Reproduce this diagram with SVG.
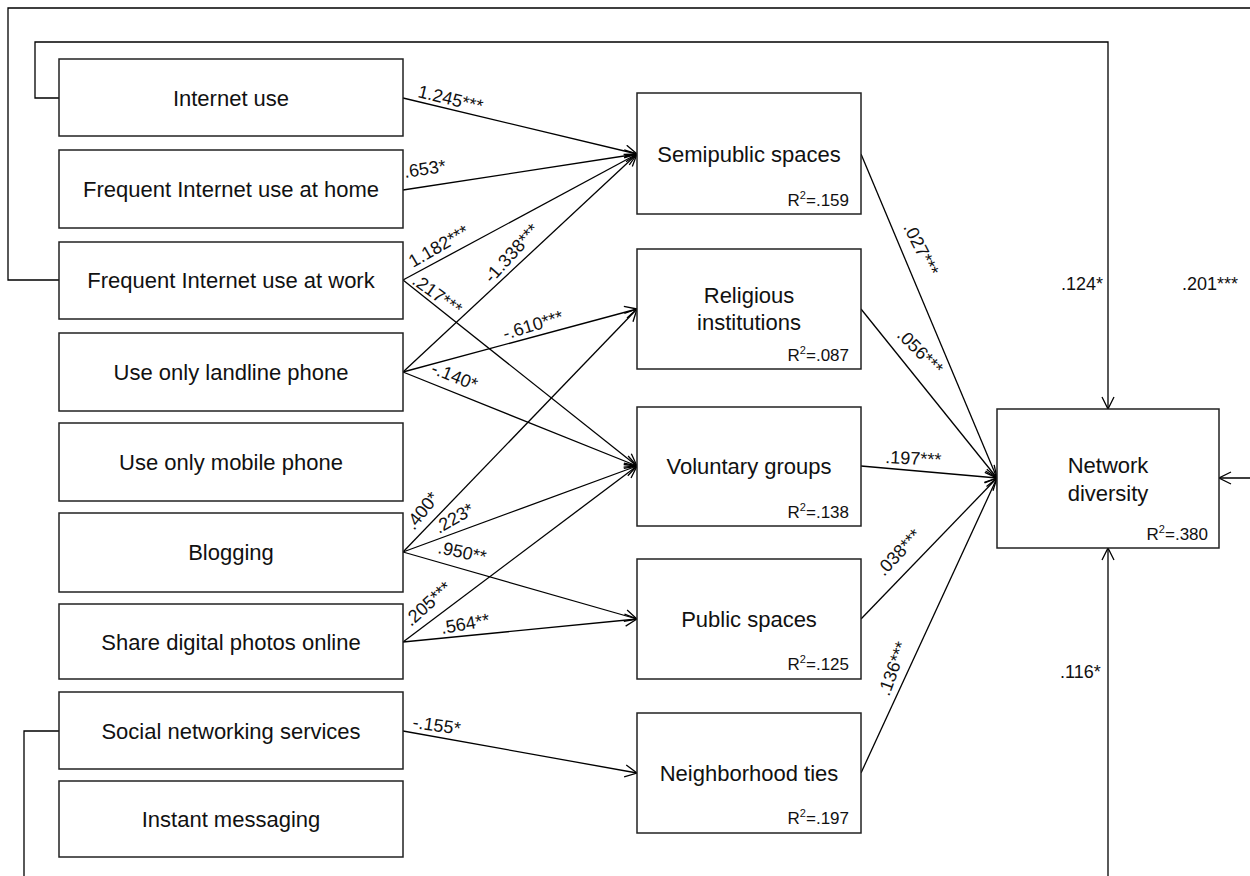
<svg xmlns="http://www.w3.org/2000/svg" width="1250" height="876" viewBox="0 0 1250 876">
<defs>
<marker id="arr" markerUnits="userSpaceOnUse" markerWidth="14" markerHeight="14" viewBox="0 0 14 14" refX="13" refY="7" orient="auto">
<path d="M1,1 L13,7 L1,13" fill="none" stroke="#000" stroke-width="1.3"/>
</marker>
<style>
.box{fill:#fff;stroke:#222;stroke-width:1.5}
.t{font-family:"Liberation Sans",Arial,sans-serif;font-size:22px;fill:#111;text-anchor:middle}
.r2{font-family:"Liberation Sans",Arial,sans-serif;font-size:17px;fill:#111;text-anchor:end}
.lb{font-family:"Liberation Sans",Arial,sans-serif;font-size:18px;fill:#111}
.c{fill:none;stroke:#000;stroke-width:1.3}
.a{fill:none;stroke:#000;stroke-width:1.3;marker-end:url(#arr)}
</style>
</defs>
<rect width="1250" height="876" fill="#fff"/>

<g id="connectors">
<path class="a" d="M59,98 H35 V42 H1108 V409"/>
<path class="a" d="M59,280 H8 V8 H1262 V478 H1219"/>
<path class="c" d="M59,731 H24 V880"/>
<path class="a" d="M1108,880 V548"/>

<line class="a" x1="403" y1="98" x2="637" y2="154"/>
<line class="a" x1="403" y1="190" x2="637" y2="154"/>
<line class="a" x1="403" y1="280" x2="637" y2="154"/>
<line class="a" x1="403" y1="280" x2="637" y2="466"/>
<line class="a" x1="403" y1="372" x2="637" y2="154"/>
<line class="a" x1="403" y1="372" x2="637" y2="309"/>
<line class="a" x1="403" y1="372" x2="637" y2="466"/>
<line class="a" x1="403" y1="552" x2="637" y2="309"/>
<line class="a" x1="403" y1="552" x2="637" y2="466"/>
<line class="a" x1="403" y1="552" x2="637" y2="619"/>
<line class="a" x1="403" y1="642" x2="637" y2="466"/>
<line class="a" x1="403" y1="642" x2="637" y2="619"/>
<line class="a" x1="403" y1="731" x2="637" y2="773"/>

<line class="a" x1="861" y1="154" x2="997" y2="478"/>
<line class="a" x1="861" y1="309" x2="997" y2="478"/>
<line class="a" x1="861" y1="466" x2="997" y2="478"/>
<line class="a" x1="861" y1="619" x2="997" y2="478"/>
<line class="a" x1="861" y1="773" x2="997" y2="478"/>

<text class="lb" transform="translate(417,97) rotate(13.5)">1.245***</text>
<text class="lb" transform="translate(405,178) rotate(-8.7)">.653*</text>
<text class="lb" transform="translate(413,268) rotate(-30)">1.182***</text>
<text class="lb" transform="translate(411,283) rotate(36)">.217***</text>
<text class="lb" transform="translate(492,284) rotate(-48)">-1.338***</text>
<text class="lb" transform="translate(505,340) rotate(-17)">-.610***</text>
<text class="lb" transform="translate(430,373) rotate(22)">-.140*</text>
<text class="lb" transform="translate(414,531) rotate(-52)">.400*</text>
<text class="lb" transform="translate(439,534) rotate(-30)">.223*</text>
<text class="lb" transform="translate(437,553) rotate(12)">.950**</text>
<text class="lb" transform="translate(411,627) rotate(-42)">.205***</text>
<text class="lb" transform="translate(442,634) rotate(-10)">.564**</text>
<text class="lb" transform="translate(412,728) rotate(8)">-.155*</text>

<text class="lb" transform="translate(903,227) rotate(63)">.027***</text>
<text class="lb" transform="translate(896,336) rotate(45)">.056***</text>
<text class="lb" transform="translate(885,463) rotate(3)">.197***</text>
<text class="lb" transform="translate(884,577) rotate(-47)">.038***</text>
<text class="lb" transform="translate(889,697) rotate(-70)">.136***</text>

<text class="lb" x="1061" y="290">.124*</text>
<text class="lb" x="1182" y="290">.201***</text>
<text class="lb" x="1060" y="678">.116*</text>
</g>

<g id="n-internet"><rect class="box" x="59" y="59" width="344" height="77"/><text class="t" x="231" y="106">Internet use</text></g>
<g id="n-home"><rect class="box" x="59" y="150" width="344" height="78"/><text class="t" x="231" y="197">Frequent Internet use at home</text></g>
<g id="n-work"><rect class="box" x="59" y="242" width="344" height="77"/><text class="t" x="231" y="288">Frequent Internet use at work</text></g>
<g id="n-landline"><rect class="box" x="59" y="333" width="344" height="78"/><text class="t" x="231" y="380">Use only landline phone</text></g>
<g id="n-mobile"><rect class="box" x="59" y="423" width="344" height="78"/><text class="t" x="231" y="470">Use only mobile phone</text></g>
<g id="n-blogging"><rect class="box" x="59" y="513" width="344" height="79"/><text class="t" x="231" y="560">Blogging</text></g>
<g id="n-photos"><rect class="box" x="59" y="604" width="344" height="75"/><text class="t" x="231" y="650">Share digital photos online</text></g>
<g id="n-sns"><rect class="box" x="59" y="692" width="344" height="77"/><text class="t" x="231" y="739">Social networking services</text></g>
<g id="n-im"><rect class="box" x="59" y="781" width="344" height="76"/><text class="t" x="231" y="827">Instant messaging</text></g>

<g id="n-semipublic"><rect class="box" x="637" y="93" width="224" height="121"/><text class="t" x="749" y="162">Semipublic spaces</text><text class="r2" x="849" y="206">R<tspan dy="-7" font-size="11">2</tspan><tspan dy="7">=.159</tspan></text></g>
<g id="n-religious"><rect class="box" x="637" y="249" width="224" height="120"/><text class="t" x="749" y="303">Religious</text><text class="t" x="749" y="330">institutions</text><text class="r2" x="849" y="361">R<tspan dy="-7" font-size="11">2</tspan><tspan dy="7">=.087</tspan></text></g>
<g id="n-voluntary"><rect class="box" x="637" y="407" width="224" height="119"/><text class="t" x="749" y="474">Voluntary groups</text><text class="r2" x="849" y="518">R<tspan dy="-7" font-size="11">2</tspan><tspan dy="7">=.138</tspan></text></g>
<g id="n-public"><rect class="box" x="637" y="559" width="224" height="120"/><text class="t" x="749" y="627">Public spaces</text><text class="r2" x="849" y="670">R<tspan dy="-7" font-size="11">2</tspan><tspan dy="7">=.125</tspan></text></g>
<g id="n-neighborhood"><rect class="box" x="637" y="713" width="224" height="120"/><text class="t" x="749" y="781">Neighborhood ties</text><text class="r2" x="849" y="824">R<tspan dy="-7" font-size="11">2</tspan><tspan dy="7">=.197</tspan></text></g>

<g id="n-network"><rect class="box" x="997" y="409" width="222" height="139"/><text class="t" x="1108" y="473">Network</text><text class="t" x="1108" y="501">diversity</text><text class="r2" x="1208" y="540">R<tspan dy="-7" font-size="11">2</tspan><tspan dy="7">=.380</tspan></text></g>
</svg>
